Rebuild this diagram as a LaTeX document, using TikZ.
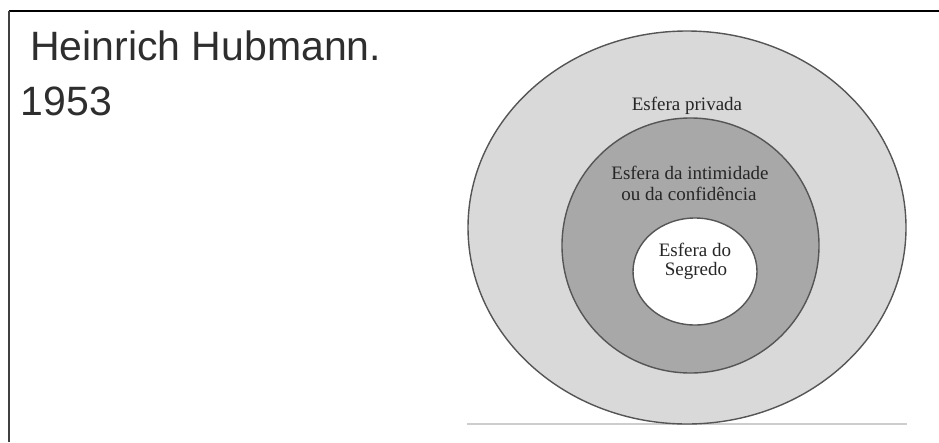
\documentclass[tikz,border=0pt]{standalone}
\usepackage{fontspec}
\setmainfont{Liberation Serif}
\newfontfamily\titlefont{Liberation Sans}
\definecolor{outerfill}{HTML}{D9D9D9}
\definecolor{midfill}{HTML}{A8A8A8}
\definecolor{ringline}{HTML}{555555}
\definecolor{titlegray}{HTML}{2E2E2E}
\definecolor{textgray}{HTML}{262626}
\definecolor{groundgray}{HTML}{CDCDCD}
\begin{document}
\begin{tikzpicture}[x=1pt,y=-1pt]
\tikzset{
  ringstyle/.style={draw=ringline, line width=1.4pt},
  titletext/.style={font=\titlefont\fontsize{41}{48}\selectfont, text=titlegray, inner sep=0pt, anchor=base west},
  spheretext/.style={font=\fontsize{19}{22}\selectfont, text=textgray, inner sep=0pt, anchor=base},
}
\useasboundingbox (0,0) rectangle (939,442);
% frame
\coordinate (fcorner) at (9,11);
\coordinate (fright) at (939,11);
\coordinate (fbottom) at (9,442);
\draw[black, line width=2.5pt] (fcorner) -- (fright);
\draw[black!75, line width=2pt] (fcorner) -- (fbottom);
% title
\node[titletext] (title1) at (30,60.5) {Heinrich Hubmann.};
\node[titletext] (title2) at (20.5,115) {1953};
% ground line
\coordinate (gl) at (467,424);
\coordinate (gr) at (907,424);
\draw[draw=groundgray, line width=1.5pt] (gl) -- (gr);
% spheres
\draw[ringstyle, fill=outerfill] (687,227.5) ellipse [x radius=219, y radius=196.5];
\draw[ringstyle, fill=midfill] (690.5,245.5) ellipse [x radius=128.5, y radius=127.5];
\draw[ringstyle, fill=white] (695,271.5) ellipse [x radius=62, y radius=53.5];
% labels
\node[spheretext] (privada) at (687,110.5) {Esfera privada};
\node[spheretext] (intim1) at (690,179) {Esfera da intimidade};
\node[spheretext] (intim2) at (689,200) {ou da confidência};
\node[spheretext] (seg1) at (695,256.5) {Esfera do};
\node[spheretext] (seg2) at (696,275.5) {Segredo};
\end{tikzpicture}
\end{document}
